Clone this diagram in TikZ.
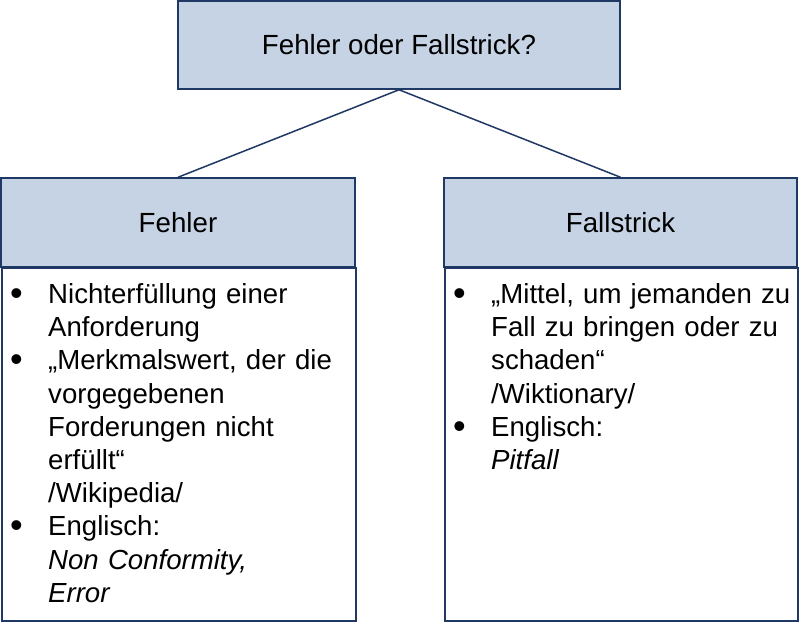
\documentclass[tikz,border=0pt]{standalone}
\usepackage{fontspec}
\setmainfont{Liberation Sans}
\definecolor{boxfill}{RGB}{197,211,228}
\definecolor{boxline}{RGB}{31,56,100}
\newcommand\bitem{\par\hangindent=38pt\hangafter=1\noindent\makebox[38pt][l]{\hspace{0pt}\rule{0pt}{22pt}{\fontsize{36}{36}\selectfont\raisebox{-2pt}{•}}}}
\begin{document}
\begin{tikzpicture}[x=1pt,y=-1pt,
  headbox/.style={draw=boxline, fill=boxfill, line width=1.5pt, inner sep=0pt,
    font=\fontsize{27.7}{33.2}\selectfont},
  bodybox/.style={draw=boxline, fill=white, line width=1.5pt, inner sep=0pt, anchor=north west},
  bodytext/.style={anchor=north west, inner sep=0pt, text width=420pt, align=left,
    font=\fontsize{27.6}{33.2}\selectfont},
  link/.style={draw=boxline, line width=1.5pt}]
\useasboundingbox (0,0) rectangle (800,622);
\fill[white] (0,0) rectangle (800,622);
\node[headbox, minimum width=442pt, minimum height=88pt] (top) at (399,45) {Fehler oder Fallstrick?};
\node[headbox, minimum width=354pt, minimum height=89pt] (fehler) at (178,222.5) {Fehler};
\node[headbox, minimum width=353pt, minimum height=89pt] (fall) at (620.5,222.5) {Fallstrick};
\node[bodybox, minimum width=354pt, minimum height=353pt] (fehlerbody) at (1,267) {};
\node[bodybox, minimum width=353pt, minimum height=353pt] (fallbody) at (444,267) {};
\node[bodytext] (fehlertext) at (10,270) {%
\bitem Nichterfüllung einer\newline Anforderung
\bitem „Merkmalswert, der die\newline vorgegebenen\newline Forderungen nicht\newline erfüllt“\newline /Wikipedia/
\bitem Englisch:\newline \textit{Non Conformity,}\newline \textit{Error}\par};
\node[bodytext] (falltext) at (453,270) {%
\bitem „Mittel, um jemanden zu\newline Fall zu bringen oder zu\newline schaden“\newline /Wiktionary/
\bitem Englisch:\newline \textit{Pitfall}\par};
\draw[link] (top.south) -- (fehler.north);
\draw[link] (top.south) -- (fall.north);
\end{tikzpicture}
\end{document}
